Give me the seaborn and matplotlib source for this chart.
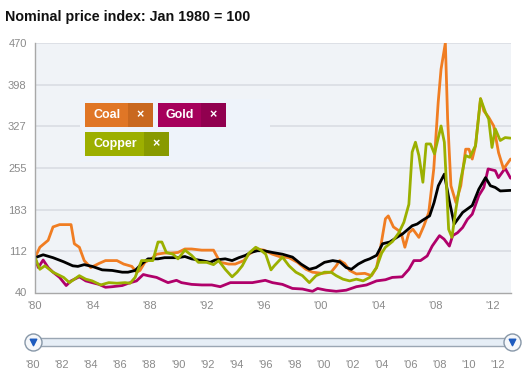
import numpy as np
import pandas as pd
import matplotlib
matplotlib.use("Agg")
import matplotlib.pyplot as plt
from matplotlib.patches import Rectangle
import seaborn as sns

# ── data (decimal years) ─────────────────────────────────────────────────────
total_x = [1980.0, 1980.57, 1981.26, 1982.0, 1982.64, 1983.0, 1983.44, 1984.0, 1984.7, 1985.4,
           1986.1, 1986.5, 1987.0, 1987.45, 1987.9, 1988.6, 1989.06, 1990.0, 1990.48, 1990.95,
           1991.66, 1992.25, 1992.6, 1993.3, 1993.78, 1994.25, 1994.72, 1995.08, 1995.55, 1996.0,
           1996.6, 1997.3, 1998.0, 1998.6, 1999.18, 1999.65, 2000.24, 2000.82, 2001.3, 2001.76,
           2002.12, 2002.6, 2003.06, 2003.4, 2003.88, 2004.3, 2004.8, 2005.3, 2005.7, 2006.37,
           2006.72, 2007.07, 2007.59, 2007.9, 2008.2, 2008.62, 2008.95, 2009.31, 2009.9, 2010.57,
           2011.03, 2011.5, 2011.84, 2012.18, 2012.53, 2013.25]
total_y = [100, 105, 100, 93, 86, 85, 88, 85, 79, 78,
           75, 75, 78, 89, 98, 98, 100, 100, 102, 98,
           95, 92, 96, 98, 95, 100, 104, 109, 112, 112,
           109, 106, 101, 89, 80, 83, 92, 95, 93, 83,
           80, 89, 95, 98, 104, 124, 127, 135, 141, 155,
           158, 164, 172, 195, 224, 244, 200, 158, 178, 190,
           218, 238, 224, 221, 215, 216]

gold_x = [1980.0, 1980.23, 1980.57, 1980.92, 1981.26, 1981.72, 1982.18, 1982.52, 1983.1, 1983.55,
          1984.0, 1984.47, 1984.93, 1985.4, 1986.1, 1986.54, 1987.1, 1987.57, 1987.9, 1988.5,
          1989.3, 1989.89, 1990.24, 1990.95, 1991.66, 1992.36, 1992.95, 1993.66, 1994.49, 1995.2,
          1996.1, 1996.6, 1997.3, 1998.0, 1998.7, 1999.4, 1999.76, 2000.35, 2001.06, 2001.76,
          2002.47, 2003.18, 2003.88, 2004.5, 2004.98, 2005.67, 2006.14, 2006.49, 2006.95, 2007.42,
          2007.77, 2008.28, 2008.6, 2008.97, 2009.2, 2009.54, 2009.9, 2010.23, 2010.57, 2011.03,
          2011.38, 2011.68, 2012.18, 2012.4, 2012.87, 2013.25]
gold_y = [100, 83, 96, 83, 75, 66, 52, 60, 67, 60,
          57, 54, 49, 50, 52, 56, 60, 71, 69, 66,
          57, 61, 57, 54, 53, 53, 50, 57, 57, 57,
          61, 57, 54, 47, 46, 42, 47, 44, 42, 44,
          50, 53, 60, 62, 66, 67, 80, 95, 95, 103,
          120, 138, 132, 120, 138, 143, 152, 166, 175, 207,
          221, 253, 250, 238, 254, 237]

coal_x = [1980.0, 1980.34, 1980.92, 1981.26, 1981.72, 1982.52, 1982.75, 1983.1, 1983.44, 1983.9,
          1984.47, 1984.93, 1985.73, 1986.2, 1986.77, 1987.1, 1987.34, 1987.68, 1988.14, 1988.5,
          1989.06, 1989.53, 1990.0, 1990.48, 1990.95, 1991.66, 1992.48, 1992.95, 1993.54, 1994.0,
          1994.6, 1994.96, 1995.55, 1996.0, 1996.6, 1997.08, 1997.76, 1998.35, 1998.94, 1999.4,
          2000.1, 2000.7, 2001.06, 2001.3, 2001.65, 2002.0, 2002.47, 2003.06, 2003.53, 2003.88,
          2004.12, 2004.5, 2004.7, 2005.06, 2005.41, 2005.65, 2005.86, 2006.14, 2006.42, 2006.84,
          2007.19, 2007.53, 2007.88, 2008.19, 2008.39, 2008.69, 2008.85, 2009.08, 2009.43, 2009.77,
          2010.11, 2010.34, 2010.57, 2010.8, 2011.15, 2011.38, 2011.72, 2012.07, 2012.41, 2012.76,
          2013.25]
coal_y = [100, 118, 130, 153, 157, 157, 124, 118, 95, 83,
          90, 95, 95, 89, 85, 75, 78, 92, 98, 106,
          108, 108, 109, 115, 115, 113, 113, 92, 89, 89,
          95, 106, 115, 113, 106, 102, 100, 92, 80, 75,
          73, 75, 86, 95, 90, 78, 72, 73, 69, 83,
          112, 167, 172, 153, 147, 138, 118, 143, 149, 135,
          155, 178, 253, 368, 425, 470, 339, 224, 195, 224,
          287, 287, 270, 293, 374, 353, 342, 327, 281, 253,
          270]

copper_x = [1980.0, 1980.34, 1980.69, 1981.26, 1982.0, 1982.41, 1983.1, 1983.55, 1984.0, 1984.59,
            1985.16, 1985.73, 1986.3, 1986.65, 1987.0, 1987.45, 1987.9, 1988.24, 1988.6, 1988.87,
            1989.18, 1989.65, 1990.0, 1990.48, 1990.95, 1991.42, 1992.0, 1992.48, 1992.84, 1993.3,
            1993.78, 1994.13, 1994.49, 1994.96, 1995.43, 1995.78, 1996.13, 1996.5, 1996.73, 1997.3,
            1997.76, 1998.24, 1998.7, 1999.18, 1999.65, 2000.24, 2000.7, 2001.06, 2001.53, 2002.0,
            2002.47, 2002.94, 2003.4, 2003.88, 2004.24, 2004.5, 2005.0, 2005.44, 2005.79, 2006.14,
            2006.37, 2006.6, 2006.84, 2007.12, 2007.35, 2007.65, 2007.93, 2008.39, 2008.62, 2008.92,
            2009.15, 2009.43, 2009.77, 2010.11, 2010.39, 2010.8, 2011.15, 2011.5, 2011.72, 2011.95,
            2012.18, 2012.53, 2012.87, 2013.25]
copper_y = [100, 80, 86, 75, 66, 57, 69, 63, 60, 53,
            57, 56, 57, 56, 66, 95, 95, 95, 127, 127,
            109, 106, 98, 113, 104, 92, 92, 88, 95, 80,
            67, 75, 86, 108, 118, 113, 106, 79, 86, 101,
            86, 75, 69, 57, 69, 75, 75, 69, 63, 60,
            63, 60, 66, 83, 108, 118, 128, 143, 161, 192,
            282, 299, 276, 230, 296, 296, 279, 327, 299, 149,
            135, 184, 235, 276, 273, 293, 374, 350, 339, 290,
            322, 302, 307, 306]

y_ticks = [40, 112, 183, 255, 327, 398, 470]
chips = ["Coal", "Gold", "Copper"]

# long table for seaborn
frames = []
for name, xs, ys in [("Gold", gold_x, gold_y), ("Coal", coal_x, coal_y),
                     ("Total", total_x, total_y), ("Copper", copper_x, copper_y)]:
    frames.append(pd.DataFrame({"year": xs, "index": ys, "series": name}))
df = pd.concat(frames, ignore_index=True)

PALETTE = {"Coal": "#f07d22", "Gold": "#b0006a", "Copper": "#9bb000", "Total": "#000000"}
CHIP = {"Coal": ("#e07626", "#c9681f"), "Gold": ("#a6005b", "#91004f"),
        "Copper": ("#9caf00", "#889a00")}

sns.set_style("white")
plt.rcParams["font.family"] = ["Liberation Sans", "DejaVu Sans"]

W, H = 529, 385
fig = plt.figure(figsize=(W / 100, H / 100), dpi=100)


def fx(px):
    return px / W


def fy(py):
    return 1 - py / H


# ── main chart ───────────────────────────────────────────────────────────────
ax = fig.add_axes([fx(35), fy(292.5), fx(511) - fx(35), fy(43) - fy(292.5)])
ax.set_facecolor("#f0f3f7")
for v in y_ticks[1:]:
    ax.axhline(v, color="#dcdfe5", lw=1.3, zorder=0)

sns.lineplot(data=df, x="year", y="index", hue="series", palette=PALETTE,
             estimator=None, sort=True, lw=2.0, legend=False, ax=ax)

ax.set_xlim(1980, 2013.28)
ax.set_ylim(40, 470)
ax.set_xlabel("")
ax.set_ylabel("")
ax.set_yticks(y_ticks)
ax.set_yticklabels([str(v) for v in y_ticks])
ax.set_xticks(np.arange(1980, 2013, 4))
ax.set_xticklabels(["'%02d" % (y % 100) for y in range(1980, 2013, 4)])
ax.set_xticks(np.arange(1982, 2013, 4), minor=True)
ax.tick_params(axis="both", colors="#a0a0a0", labelcolor="#8a8a8a", labelsize=8,
               length=4, width=1, pad=2)
ax.tick_params(axis="x", which="minor", colors="#a0a0a0", length=4, width=1)
for s in ["top", "right"]:
    ax.spines[s].set_visible(False)
for s in ["left", "bottom"]:
    ax.spines[s].set_color("#a8a8a8")
    ax.spines[s].set_linewidth(1)

fig.text(fx(5), fy(17), "Nominal price index: Jan 1980 = 100", fontsize=10.3,
         fontweight="bold", va="center", ha="left", color="#111111")

# ── chip legend ──────────────────────────────────────────────────────────────
fig.patches.append(Rectangle((fx(80), fy(162)), fx(270) - fx(80), fy(99) - fy(162),
                             transform=fig.transFigure, facecolor="#eef3fa",
                             edgecolor="none", zorder=3))
chip_boxes = {"Coal": (85, 103, 153, 127, 128), "Gold": (158, 103, 226, 127, 201),
              "Copper": (85, 132, 169, 156, 144)}
for name in chips:
    x0, y0, x1, y1, xs = chip_boxes[name]
    main, dark = CHIP[name]
    fig.patches.append(Rectangle((fx(x0), fy(y1)), fx(xs) - fx(x0), fy(y0) - fy(y1),
                                 transform=fig.transFigure, facecolor=main,
                                 edgecolor="none", zorder=4))
    fig.patches.append(Rectangle((fx(xs), fy(y1)), fx(x1) - fx(xs), fy(y0) - fy(y1),
                                 transform=fig.transFigure, facecolor=dark,
                                 edgecolor="none", zorder=4))
    fig.text(fx(x0 + 8), fy((y0 + y1) / 2), name, color="white", fontsize=9,
             fontweight="bold", va="center", ha="left", zorder=5)
    fig.text(fx((xs + x1) / 2), fy((y0 + y1) / 2), "\u00d7", color="white",
             fontsize=9, fontweight="bold", va="center", ha="center", zorder=5)
fig.lines.append(plt.Line2D([fx(174), fx(174)], [fy(146), fy(135)],
                            transform=fig.transFigure, color="black", lw=1))

# ── range slider ─────────────────────────────────────────────────────────────
sl = fig.add_axes([fx(33), fy(346), fx(512) - fx(33), fy(338) - fy(346)])
sl.set_facecolor("#e6eef6")
sl.set_xlim(1980, 2013)
sl.set_ylim(0, 1)
for s in sl.spines.values():
    s.set_color("#9aa6b3")
    s.set_linewidth(1)
sl.set_yticks([])
sl.set_xticks(np.arange(1980, 2013, 2))
sl.set_xticklabels(["'%02d" % (y % 100) for y in range(1980, 2013, 2)])
sl.set_xticks(np.arange(1981, 2013, 2), minor=True)
sl.tick_params(axis="x", which="major", colors="#a0a0a0", labelcolor="#8a8a8a",
               labelsize=8, length=7, width=1, pad=3, direction="out")
sl.tick_params(axis="x", which="minor", colors="#b0b0b0", length=4, width=1,
               direction="out")
sl.scatter([1980, 2013], [0.5, 0.5], s=150, marker="o", facecolor="#f5f7fa",
           edgecolor="#8797a8", linewidth=1, clip_on=False, zorder=5)
sl.scatter([1980, 2013], [0.5, 0.5], s=22, marker="v", color="#1d5bbf",
           clip_on=False, zorder=6)

fig.savefig("out.png", dpi=100)
